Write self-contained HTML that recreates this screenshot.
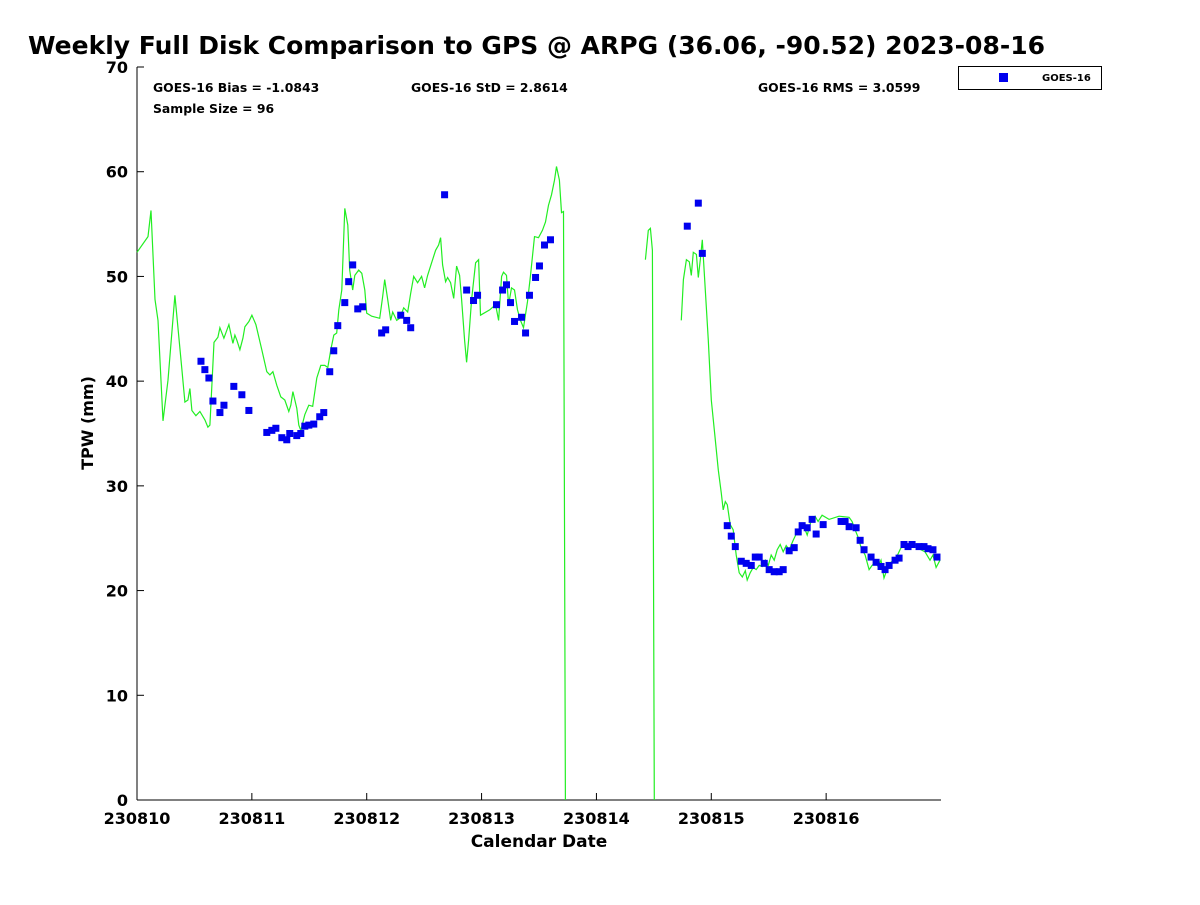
<!DOCTYPE html>
<html><head><meta charset="utf-8"><style>
body{margin:0;background:#fff;font-family:"Liberation Sans",sans-serif}
svg text{font-family:"DejaVu Sans","Liberation Sans",sans-serif;font-weight:bold}
</style></head><body>
<svg id="chart" width="1200" height="900" xmlns="http://www.w3.org/2000/svg">
<rect width="1200" height="900" fill="#fff"/>
<text x="28" y="54" font-size="25" fill="#000">Weekly Full Disk Comparison to GPS @ ARPG (36.06, -90.52) 2023-08-16</text>
<g id="axes"></g>
<g id="series"></g>
<text x="153" y="92" font-size="12.4">GOES-16 Bias = -1.0843</text>
<text x="153" y="113" font-size="12.4">Sample Size = 96</text>
<text x="411" y="92" font-size="12.4">GOES-16 StD = 2.8614</text>
<text x="758" y="92" font-size="12.4">GOES-16 RMS = 3.0599</text>
<g>
<rect x="958.5" y="66.5" width="143" height="23" fill="#fff" stroke="#000" stroke-width="1"/>
<rect x="999" y="73" width="9" height="9" fill="#0000ee"/>
<text x="1042" y="81" font-size="10">GOES-16</text>
</g>
<text x="539" y="847" font-size="17" text-anchor="middle">Calendar Date</text>
<text transform="translate(93,423) rotate(-90)" font-size="16" text-anchor="middle">TPW (mm)</text>
</svg>
<script>
const xTickLabels=["230810","230811","230812","230813","230814","230815","230816"];
const yTicks=[0,10,20,30,40,50,60,70];
const goesDays=[0.557,0.591,0.626,0.661,0.722,0.757,0.843,0.913,0.974,1.130,1.174,1.209,1.261,1.304,1.330,1.391,1.426,1.461,1.496,1.539,1.591,1.626,1.678,1.713,1.748,1.809,1.843,1.878,1.922,1.965,2.130,2.165,2.296,2.348,2.383,2.678,2.870,2.930,2.965,3.130,3.183,3.217,3.252,3.287,3.348,3.383,3.417,3.470,3.504,3.548,3.600,4.791,4.887,4.922,5.139,5.174,5.209,5.261,5.304,5.348,5.383,5.417,5.461,5.504,5.548,5.591,5.626,5.678,5.722,5.757,5.791,5.835,5.878,5.913,5.974,6.130,6.165,6.200,6.261,6.296,6.330,6.391,6.435,6.478,6.513,6.548,6.600,6.635,6.678,6.713,6.748,6.809,6.852,6.887,6.930,6.965];
const goesTPW=[41.9,41.1,40.3,38.1,37.0,37.7,39.5,38.7,37.2,35.1,35.3,35.5,34.6,34.4,35.0,34.8,35.0,35.7,35.8,35.9,36.6,37.0,40.9,42.9,45.3,47.5,49.5,51.1,46.9,47.1,44.6,44.9,46.3,45.8,45.1,57.8,48.7,47.7,48.2,47.3,48.7,49.2,47.5,45.7,46.1,44.6,48.2,49.9,51.0,53.0,53.5,54.8,57.0,52.2,26.2,25.2,24.2,22.8,22.6,22.4,23.2,23.2,22.6,22.0,21.8,21.8,22.0,23.8,24.1,25.6,26.2,26.0,26.8,25.4,26.3,26.6,26.6,26.1,26.0,24.8,23.9,23.2,22.7,22.3,22.0,22.4,22.9,23.1,24.4,24.2,24.4,24.2,24.2,24.0,23.9,23.2];
const gpsDays=[0,0.096,0.122,0.157,0.183,0.226,0.270,0.330,0.391,0.417,0.443,0.461,0.478,0.513,0.548,0.591,0.617,0.635,0.670,0.704,0.722,0.757,0.800,0.835,0.852,0.870,0.896,0.922,0.939,0.974,1.0,1.035,1.087,1.130,1.157,1.183,1.217,1.252,1.287,1.322,1.339,1.357,1.391,1.409,1.426,1.461,1.496,1.530,1.565,1.600,1.635,1.661,1.687,1.713,1.739,1.757,1.783,1.809,1.835,1.852,1.878,1.896,1.930,1.957,1.983,2.0,2.043,2.113,2.139,2.157,2.183,2.209,2.226,2.261,2.287,2.322,2.357,2.383,2.409,2.443,2.478,2.504,2.530,2.565,2.600,2.626,2.643,2.661,2.687,2.704,2.730,2.757,2.783,2.809,2.826,2.852,2.870,2.887,2.913,2.948,2.974,2.991,3.070,3.122,3.148,3.174,3.191,3.217,3.235,3.261,3.287,3.313,3.339,3.365,3.400,3.426,3.461,3.496,3.530,3.557,3.583,3.609,3.635,3.652,3.678,3.696,3.713,3.730,4.374,4.426,4.452,4.470,4.487,4.504,4.722,4.739,4.757,4.783,4.809,4.826,4.843,4.870,4.887,4.904,4.922,4.948,4.974,5.0,5.035,5.061,5.087,5.104,5.122,5.139,5.165,5.191,5.217,5.243,5.270,5.296,5.313,5.339,5.365,5.391,5.417,5.443,5.470,5.496,5.522,5.548,5.574,5.600,5.626,5.652,5.678,5.713,5.757,5.800,5.835,5.870,5.904,5.930,5.965,6.026,6.113,6.200,6.226,6.252,6.278,6.304,6.339,6.374,6.400,6.426,6.452,6.478,6.504,6.530,6.565,6.609,6.652,6.696,6.730,6.774,6.826,6.861,6.904,6.930,6.957,6.991];
const gpsTPW=[52.3,53.8,56.3,47.8,45.8,36.2,40.1,48.2,41.1,38.0,38.2,39.3,37.2,36.7,37.1,36.3,35.6,35.8,43.7,44.2,45.1,44.1,45.4,43.6,44.4,43.9,43.0,44.1,45.2,45.7,46.3,45.4,43.0,40.9,40.6,40.9,39.6,38.5,38.2,37.1,37.7,39.0,37.4,35.8,35.3,36.8,37.7,37.6,40.3,41.5,41.5,41.3,43.0,44.4,44.6,46.8,48.7,56.5,54.9,50.6,48.7,50.1,50.6,50.3,48.7,46.5,46.2,46.0,48.1,49.7,47.8,45.8,46.6,45.8,46.0,47.0,46.6,48.4,50.0,49.4,50.0,48.9,50.1,51.3,52.5,53.0,53.7,51.1,49.5,49.9,49.4,47.9,51.0,50.1,47.8,43.9,41.8,43.9,47.8,51.3,51.6,46.3,46.8,47.3,45.8,50.0,50.4,50.1,47.3,48.9,48.7,46.8,45.8,45.1,47.6,50.1,53.8,53.7,54.4,55.2,56.8,57.8,59.2,60.5,59.2,56.1,56.2,0,0,51.6,54.4,54.6,52.5,0,0,45.8,49.7,51.6,51.4,50.1,52.3,52.1,49.9,51.6,53.5,48.7,43.9,38.2,34.4,31.5,29.3,27.7,28.5,28.2,26.3,25.8,23.4,21.7,21.3,21.9,21.0,21.7,22.2,22.0,22.4,22.3,22.9,22.4,23.4,22.9,23.9,24.4,23.7,24.3,23.9,24.8,25.8,26.3,25.3,26.7,27.1,26.6,27.2,26.8,27.1,27.0,26.6,25.8,25.1,24.1,23.4,22.0,22.4,22.7,22.3,22.9,21.2,22.0,22.7,23.1,24.1,24.2,24.1,24.4,23.9,23.7,22.9,23.4,22.2,22.9];

const NS='http://www.w3.org/2000/svg';
const X0=137,X1=941,Y0=800,Y1=67;
const xs=d=>X0+d*(X1-X0)/7;
const ys=v=>Y0-v*(Y0-Y1)/70;
function mk(tag,attrs,parent){const e=document.createElementNS(NS,tag);for(const k in attrs)e.setAttribute(k,attrs[k]);parent.appendChild(e);return e;}
const axes=document.getElementById('axes');
const series=document.getElementById('series');
yTicks.forEach(v=>{
  mk('line',{x1:X0,y1:ys(v),x2:X0+7,y2:ys(v),stroke:'#000'},axes);
  const t=mk('text',{x:X0-9,y:ys(v)+6,'font-size':16,'text-anchor':'end'},axes);
  t.textContent=v;
  
  
});
xTickLabels.forEach((s,i)=>{
  mk('line',{x1:xs(i),y1:Y0,x2:xs(i),y2:Y0-7,stroke:'#000'},axes);
  const t=mk('text',{x:xs(i),y:Y0+24,'font-size':16,'text-anchor':'middle'},axes);
  t.textContent=s;
  
  
});
// GPS line: skip segments lying along zero
let d='';let pen=false;
for(let i=0;i<gpsDays.length;i++){
  const p=xs(gpsDays[i]).toFixed(1)+','+ys(gpsTPW[i]).toFixed(1);
  if(i>0&&gpsTPW[i]===0&&gpsTPW[i-1]===0){pen=false;continue;}
  d+=(pen?' L':' M')+p;pen=true;
}
const pl=mk('path',{d:d,fill:'none',stroke:'#22ee22','stroke-width':1.2},series);


const yl=mk('line',{x1:X0,y1:Y0,x2:X0,y2:Y1,stroke:'#000','stroke-width':1},axes);


const xl=mk('line',{x1:X0,y1:Y0,x2:X1,y2:Y0,stroke:'#000','stroke-width':1},axes);


goesDays.forEach((dd,i)=>{
  const r=mk('rect',{x:xs(dd)-3.5,y:ys(goesTPW[i])-3.5,width:7,height:7,fill:'#0000ee'},series);
  
  
});
</script>
</body></html>
